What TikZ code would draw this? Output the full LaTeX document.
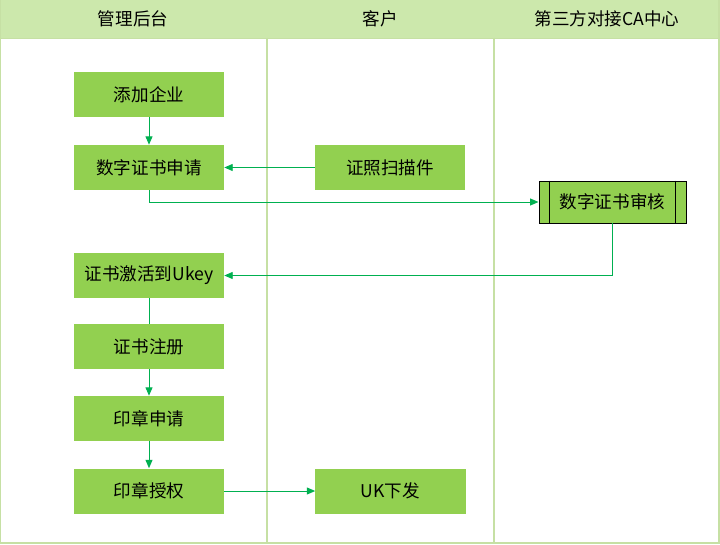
\documentclass[tikz,border=0pt]{standalone}
\usepackage{fontspec}
\setmainfont{Noto Sans CJK SC}
\usetikzlibrary{arrows.meta}
\definecolor{boxgreen}{HTML}{92D050}
\definecolor{flowgreen}{HTML}{00B050}
\definecolor{lanegreen}{HTML}{C6E0A4}
\definecolor{headgreen}{HTML}{CCE8AC}
\tikzset{
  lane/.style={draw=lanegreen, line width=0.8pt},
  head/.style={font=\fontsize{12.5}{15}\selectfont},
  task/.style={rectangle, fill=boxgreen, minimum width=3.75cm, minimum height=1.125cm, inner sep=0pt, font=\fontsize{12.5}{15}\selectfont},
  subtask/.style={task, draw=black, line width=0.7pt, minimum width=3.675cm, minimum height=1.05cm},
  link/.style={draw=flowgreen, line width=0.7pt},
  flow/.style={link, -{Triangle[length=6pt, width=5pt]}},
}

\begin{document}
\begin{tikzpicture}[x=0.025cm, y=-0.025cm]
  \useasboundingbox (0,0) rectangle (720,544);

  % Header band and lanes
  \fill[headgreen] (0,0) rectangle (720,38);
  \draw[lane] (0.5,0) -- (0.5,543) -- (719,543) -- (719,0);
  \draw[lane] (0,38.5) -- (720,38.5);
  \draw[lane] (267,38) -- (267,543);
  \draw[lane] (494,38) -- (494,543);

  % Lane titles
  \node[head] (hadmin) at (133,18.5) {管理后台};
  \node[head] (hclient) at (380,18.5) {客户};
  \node[head] (hca) at (607,18.5) {第三方对接CA中心};

  % Steps
  \node[task] (add) at (149,94.5) {添加企业};
  \node[task] (apply) at (149,167.5) {数字证书申请};
  \node[task] (scan) at (390,167.5) {证照扫描件};
  \node[subtask] (review) at (612.5,202) {数字证书审核};
  \draw[line width=0.7pt] ([xshift=0.275cm]review.north west) -- ([xshift=0.275cm]review.south west);
  \draw[line width=0.7pt] ([xshift=-0.265cm]review.north east) -- ([xshift=-0.265cm]review.south east);
  \node[task] (activate) at (149,275.5) {证书激活到Ukey};
  \node[task] (register) at (149,346.5) {证书注册};
  \node[task] (seal) at (149,418.5) {印章申请};
  \node[task] (grant) at (149,491) {印章授权};
  \node[task] (ukey) at (390.5,491) {UK下发};

  % Connectors
  \draw[flow] (add) -- (apply);
  \draw[flow] (scan) -- (apply);
  \draw[flow] (apply.south) |- (review.west);
  \draw[flow] (review.south) |- (activate.east);
  \draw[link] (activate) -- (register);
  \draw[flow] (register) -- (seal);
  \draw[flow] (seal) -- (grant);
  \draw[flow] (grant) -- (ukey);
\end{tikzpicture}
\end{document}
